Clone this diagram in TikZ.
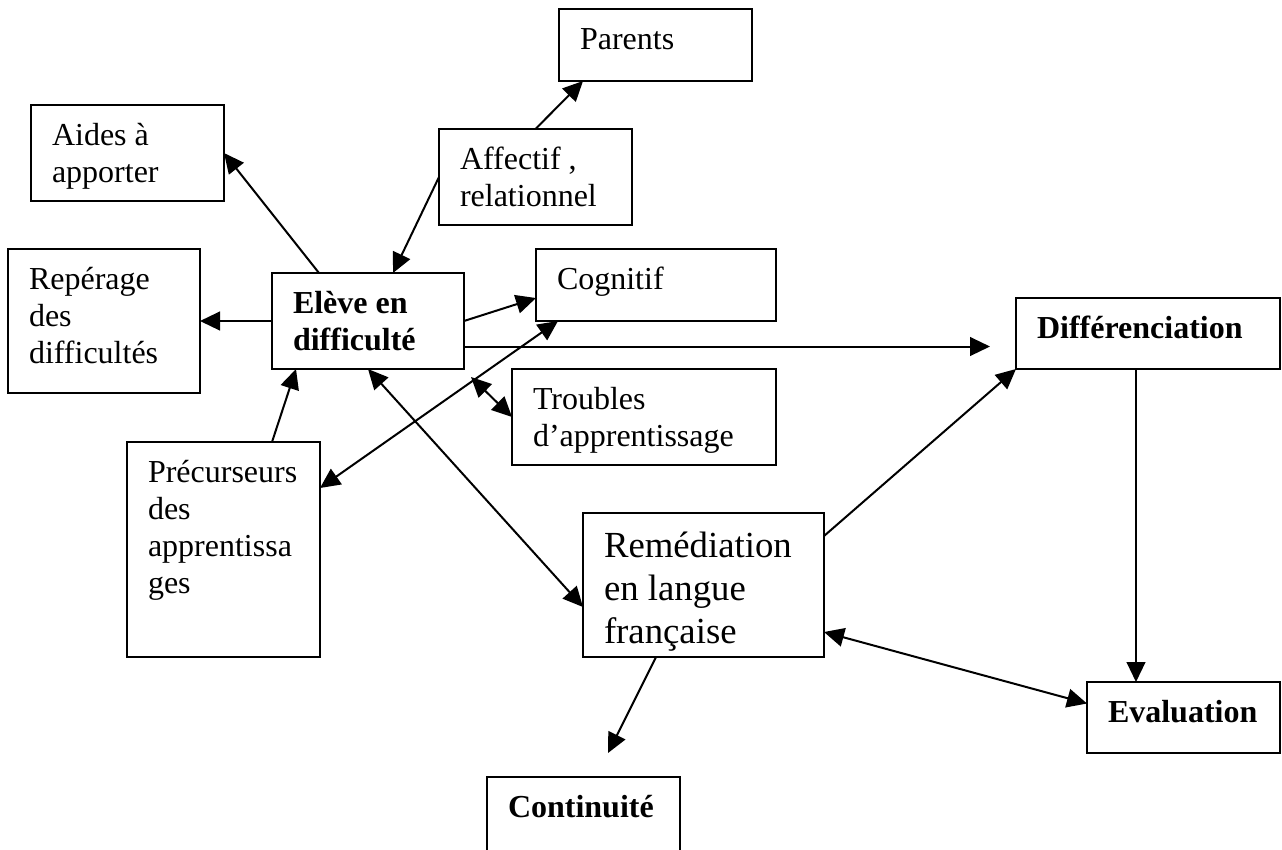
\documentclass[tikz,border=0pt]{standalone}
\usepackage{fontspec}
\setmainfont{Liberation Serif}
\usetikzlibrary{arrows.meta,calc}
\newlength{\pxu}\setlength{\pxu}{0.4pt}
% box contents: [first baseline]{width}{height}{text}, sizes in pixels
\newcommand{\boxtext}[4][16pt]{\parbox[c][#3\pxu][t]{#2\pxu}{\raggedright\leftskip=8.4pt\rightskip=0pt plus 1fil\rule{0pt}{#1}#4}}

\begin{document}
\begin{tikzpicture}[x=0.4pt, y=-0.4pt, every node/.style={font=\fontsize{12.8}{14.8}\selectfont},
 box/.style={draw,line width=0.9pt,inner sep=0pt,outer sep=0pt,anchor=north west},
 bold/.style={font=\fontsize{12.8}{14.8}\selectfont\bfseries},
 big/.style={font=\fontsize{14.7}{17.2}\selectfont},
 arr/.style={-{Triangle[length=8pt,width=7.5pt]},line width=0.8pt},
 darr/.style={{Triangle[length=8pt,width=7.5pt]}-{Triangle[length=8pt,width=7.5pt]},line width=0.8pt}]
\useasboundingbox (0,0) rectangle (1282,849);
\clip (0,0) rectangle (1282,849);
\node[box] (parents) at (559,9) {\boxtext{193}{72}{Parents}};
\node[box] (aides) at (31,105) {\boxtext{193}{96}{Aides à\\apporter}};
\node[box] (affectif) at (439,129) {\boxtext{193}{96}{Affectif ,\\relationnel}};
\node[box] (reperage) at (8,249) {\boxtext{192}{144}{Repérage\\des\\difficultés}};
\node[box,bold] (eleve) at (272,273) {\boxtext{192}{96}{Elève en\\difficulté}};
\node[box] (cognitif) at (536,249) {\boxtext{240}{72}{Cognitif}};
\node[box,bold] (diff) at (1016,298) {\boxtext{264}{71}{Différenciation}};
\node[box] (troubles) at (512,369) {\boxtext{264}{96}{Troubles\\d’apprentissage}};
\node[box] (precurseurs) at (127,442) {\boxtext{193}{215}{Précurseurs\\des\\apprentissa\\ges}};
\node[box,big] (remediation) at (583,513) {\boxtext[17.6pt]{241}{144}{Remédiation\\en langue\\française}};
\node[box,bold] (evaluation) at (1087,682) {\boxtext{193}{71}{Evaluation}};
\node[box,bold] (continuite) at (487,777) {\boxtext{193}{80}{Continuité}};
\coordinate (diffin) at ($(diff.west)+(-26,13)$);
\coordinate (diffout) at ($(diff.south west)+(120,0)$);
\coordinate (contin) at ($(continuite.north west)+(121,-24)$);
\draw[arr] (affectif.north) -- ($(parents.south west)+(24,0)$);
\draw[arr] (affectif.west) -- ($(eleve.north west)+(121,0)$);
\draw[arr] ($(eleve.north west)+(47,0)$) -- (aides.east);
\draw[arr] (eleve.west) -- (reperage.east);
\draw[arr] (eleve.east) -- ($(cognitif.west)+(0,13)$);
\draw[arr] (eleve.east |- diffin) -- (diffin);
\draw[darr] ($(eleve.south east)+(7,8)$) -- (troubles.west);
\draw[darr] ($(cognitif.south west)+(22,0)$) -- ($(precurseurs.north east)+(0,46)$);
\draw[arr] ($(precurseurs.north west)+(145,0)$) -- ($(eleve.south west)+(24,0)$);
\draw[darr] (eleve.south) -- ($(remediation.west)+(0,22)$);
\draw[arr] ($(remediation.north east)+(0,23)$) -- (diff.south west);
\draw[arr] (diffout) -- (diffout |- evaluation.north);
\draw[darr] ($(remediation.east)+(0,47)$) -- ($(evaluation.west)+(0,-14)$);
\draw[arr] ($(remediation.south west)+(73,0)$) -- (contin);
\end{tikzpicture}
\end{document}
